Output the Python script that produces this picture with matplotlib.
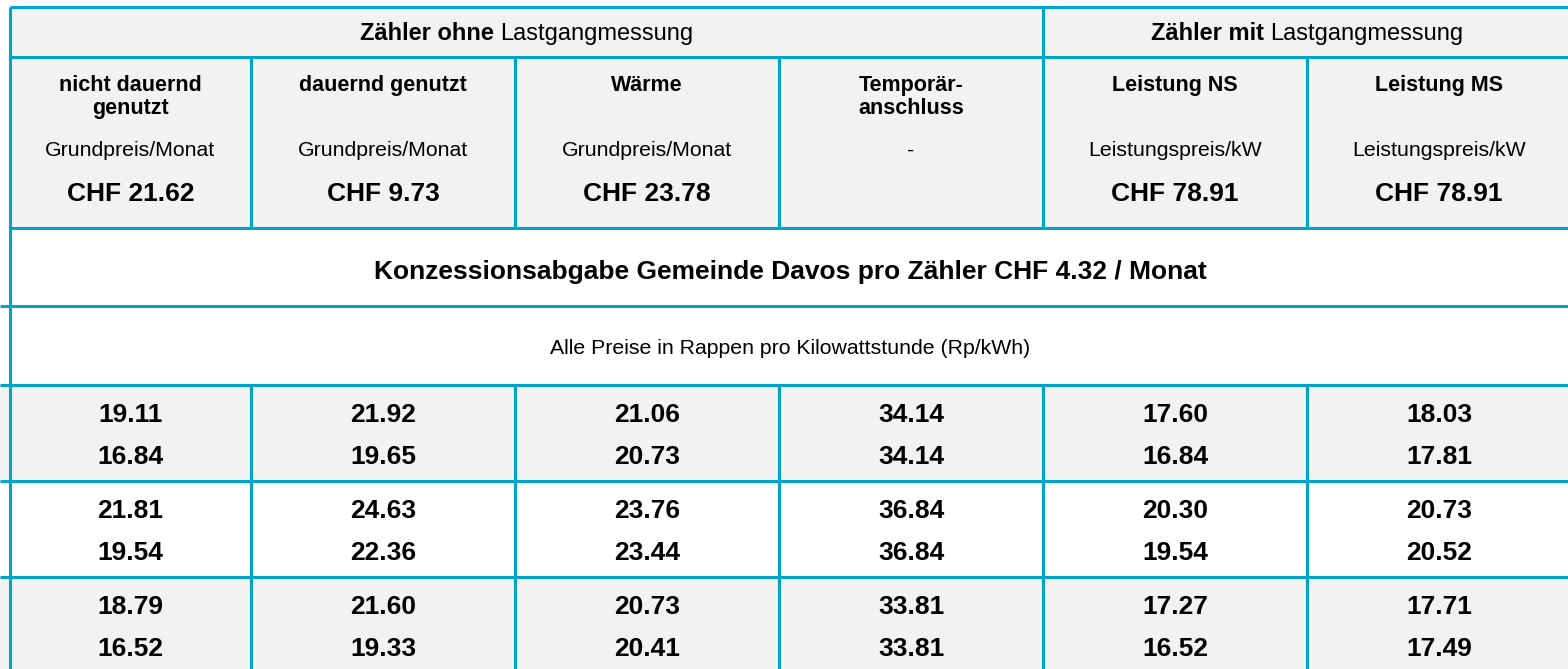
import matplotlib.pyplot as plt

plt.rcParams['font.family'] = ['Liberation Sans', 'DejaVu Sans']

# ---- table content ----
group_bold = ["Zähler ohne", "Zähler mit"]
group_rest = "Lastgangmessung"
col_titles = ["nicht dauernd\ngenutzt", "dauernd genutzt", "Wärme",
              "Temporär-\nanschluss", "Leistung NS", "Leistung MS"]
price_units = ["Grundpreis/Monat", "Grundpreis/Monat", "Grundpreis/Monat",
               "-", "Leistungspreis/kW", "Leistungspreis/kW"]
base_prices = ["CHF 21.62", "CHF 9.73", "CHF 23.78", "", "CHF 78.91", "CHF 78.91"]
concession = "Konzessionsabgabe Gemeinde Davos pro Zähler CHF 4.32 / Monat"
note = "Alle Preise in Rappen pro Kilowattstunde (Rp/kWh)"
high_tariff = [[19.11, 21.92, 21.06, 34.14, 17.60, 18.03],
               [21.81, 24.63, 23.76, 36.84, 20.30, 20.73],
               [18.79, 21.60, 20.73, 33.81, 17.27, 17.71]]
low_tariff = [[16.84, 19.65, 20.73, 34.14, 16.84, 17.81],
              [19.54, 22.36, 23.44, 36.84, 19.54, 20.52],
              [16.52, 19.33, 20.41, 33.81, 16.52, 17.49]]

# ---- layout (pixels) ----
W, H = 1568, 669
col_edges = [10, 251, 515, 779, 1043, 1307, 1571]
row_edges = [7, 57, 228, 306, 385, 481, 577, 673]
border = '#00a5c9'
grey = '#f2f2f2'
lw = 2.2

fig = plt.figure(figsize=(W / 100, H / 100), dpi=100)
ax = fig.add_axes([0, 0, 1, 1])
ax.set_xlim(0, W)
ax.set_ylim(H, 0)
ax.axis('off')

# backgrounds
ax.fill_between([col_edges[0], W], row_edges[0], row_edges[2], color=grey, lw=0)
for i, top in enumerate(row_edges[4:7]):
    if i % 2 == 0:
        ax.fill_between([0, W], top, row_edges[4 + i + 1], color=grey, lw=0)

# borders
ax.hlines(row_edges[:3], col_edges[0], W, color=border, lw=lw)
ax.hlines(row_edges[3:7], 0, W, color=border, lw=lw)
ax.vlines(col_edges[0], row_edges[0], H, color=border, lw=lw)
ax.vlines(col_edges[4], row_edges[0], row_edges[1], color=border, lw=lw)
ax.vlines(col_edges[1:6], row_edges[1], row_edges[2], color=border, lw=lw)
ax.vlines(col_edges[1:6], row_edges[4], H, color=border, lw=lw)

centers = [(a + b) / 2 for a, b in zip(col_edges[:-1], col_edges[1:])]

# top header row: bold + regular text, centred together
renderer = fig.canvas.get_renderer()
spans = [(col_edges[0], col_edges[4]), (col_edges[4], col_edges[6])]
for (x0, x1), bold in zip(spans, group_bold):
    tb = ax.text(0, 40, bold + " ", fontsize=17, fontweight='bold', va='baseline')
    tr = ax.text(0, 40, group_rest, fontsize=17, va='baseline')
    wb = tb.get_window_extent(renderer).width
    wr = tr.get_window_extent(renderer).width
    start = (x0 + x1) / 2 - (wb + wr) / 2
    tb.set_x(start)
    tr.set_x(start + wb)

# column header cells
for cx, title, unit, price in zip(centers, col_titles, price_units, base_prices):
    for k, line in enumerate(title.split("\n")):
        ax.text(cx, 91 + 23 * k, line, fontsize=15.5, fontweight='bold',
                ha='center', va='baseline')
    ax.text(cx, 156, unit, fontsize=15.3, ha='center', va='baseline')
    ax.text(cx, 201, price, fontsize=19, fontweight='bold', ha='center', va='baseline')

mid = (col_edges[0] + col_edges[-1]) / 2
ax.text(mid, 279, concession, fontsize=19, fontweight='bold', ha='center', va='baseline')
ax.text(mid, 354, note, fontsize=15.3, ha='center', va='baseline')

# tariff rows
for r, (hi, lo) in enumerate(zip(high_tariff, low_tariff)):
    top = row_edges[4 + r]
    for cx, a, b in zip(centers, hi, lo):
        ax.text(cx, top + 37, f"{a:.2f}", fontsize=19, fontweight='bold', ha='center', va='baseline')
        ax.text(cx, top + 79, f"{b:.2f}", fontsize=19, fontweight='bold', ha='center', va='baseline')

fig.savefig("out.png", dpi=100)
